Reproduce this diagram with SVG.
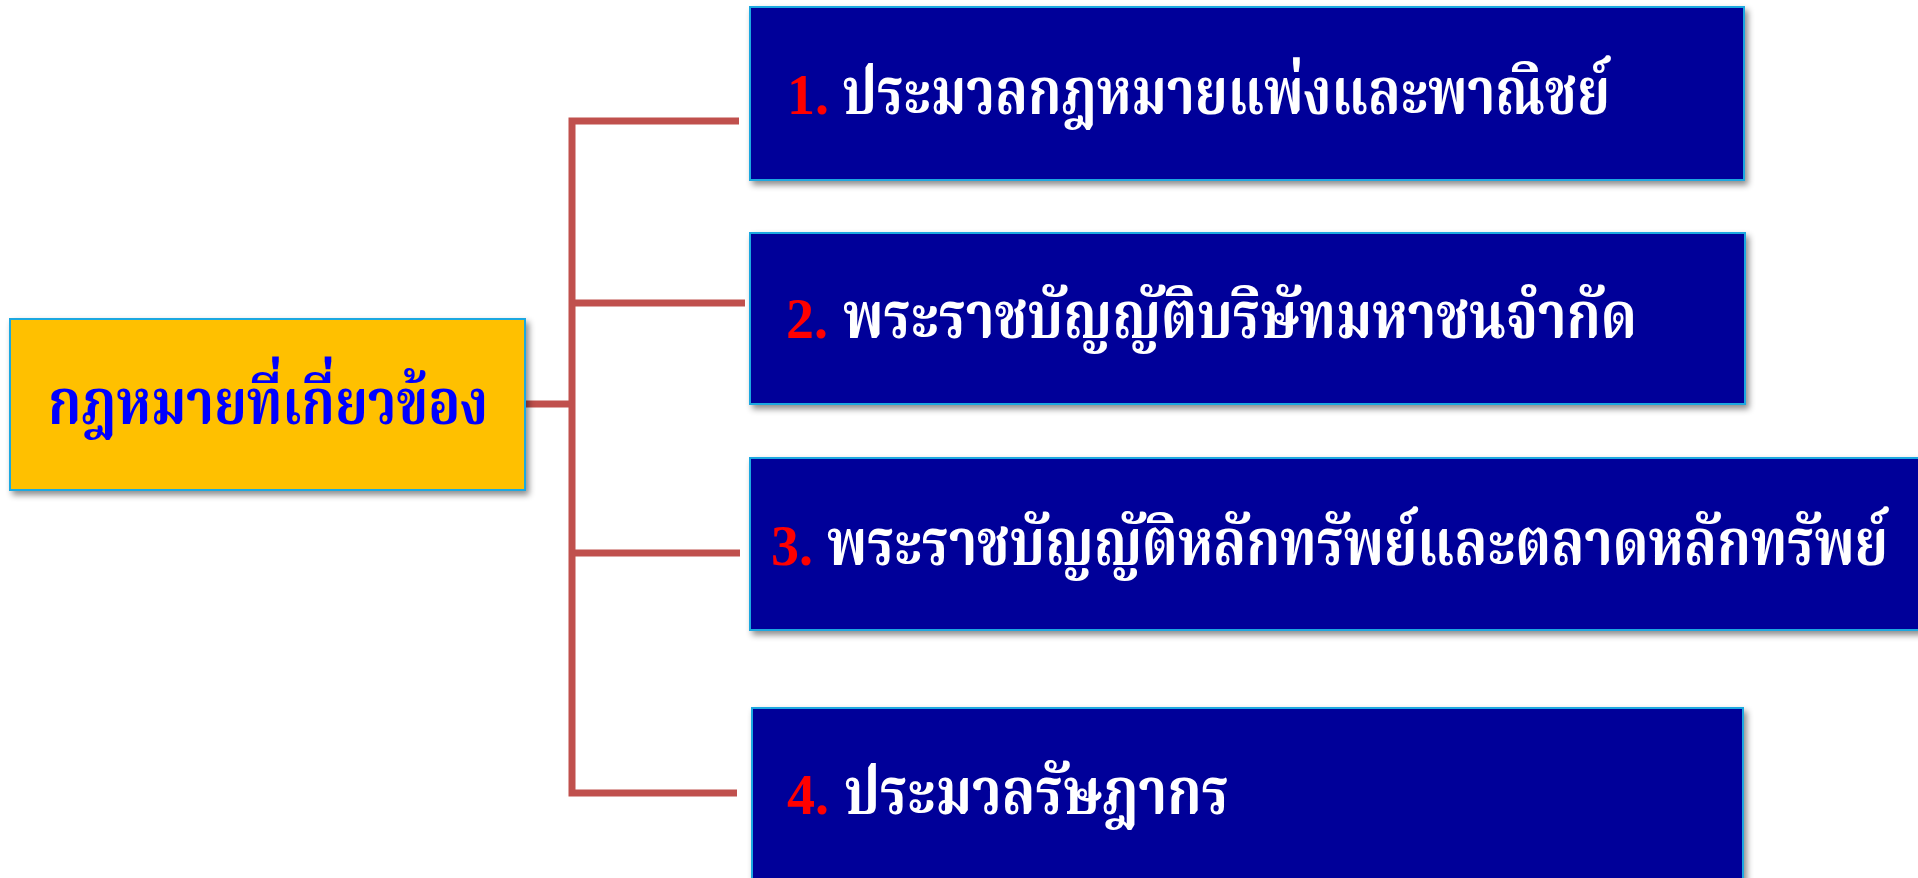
<svg xmlns="http://www.w3.org/2000/svg" width="1918" height="878" viewBox="0 0 1918 878">
  <defs>
    <filter id="shadow" x="-5%" y="-10%" width="115%" height="130%">
      <feDropShadow dx="3" dy="4" stdDeviation="3" flood-color="#000" flood-opacity="0.45"/>
    </filter>
  </defs>
  <style>
    .conn { fill: none; stroke: #C0504D; stroke-width: 7; stroke-linejoin: miter; stroke-linecap: butt; }
    .item { fill: #000099; stroke: #1FA8E0; stroke-width: 2; filter: url(#shadow); }
    .root { fill: #FFC000; stroke: #1FA8E0; stroke-width: 2; filter: url(#shadow); }
    .num { font-family: "Liberation Serif", serif; font-weight: bold; font-size: 56px; fill: #FF0000; }
    .th { font-family: "Noto Serif Thai", "Noto Sans Thai", "Liberation Serif", "DejaVu Serif", serif; font-weight: bold; font-size: 66px; fill: #FFFFFF; }
    .rootText { font-family: "Noto Serif Thai", "Noto Sans Thai", "Liberation Serif", "DejaVu Serif", serif; font-weight: bold; font-size: 64px; fill: #0000FF; }
  </style>
  <rect width="1918" height="878" fill="#FFFFFF"/>
  <g id="connectors">
    <path class="conn" d="M739,121 H572 V793 H737"/>
    <path class="conn" d="M572,303 H745"/>
    <path class="conn" d="M572,553 H740"/>
    <path class="conn" d="M525,404 H572"/>
  </g>
  <g id="root">
    <rect class="root" x="10" y="319" width="515" height="171"/>
    <text class="rootText" x="48" y="424" textLength="440" lengthAdjust="spacingAndGlyphs">กฎหมายที่เกี่ยวข้อง</text>
  </g>
  <g id="item1">
    <rect class="item" x="750" y="7" width="994" height="173"/>
    <text class="num" x="787" y="114">1.</text>
    <text class="th" x="842" y="114" textLength="768" lengthAdjust="spacingAndGlyphs">ประมวลกฎหมายแพ่งและพาณิชย์</text>
  </g>
  <g id="item2">
    <rect class="item" x="750" y="233" width="995" height="171"/>
    <text class="num" x="786" y="338">2.</text>
    <text class="th" x="843" y="338" textLength="794" lengthAdjust="spacingAndGlyphs">พระราชบัญญัติบริษัทมหาชนจำกัด</text>
  </g>
  <g id="item3">
    <rect class="item" x="750" y="458" width="1172" height="172"/>
    <text class="num" x="771" y="565">3.</text>
    <text class="th" x="827" y="565" textLength="1061" lengthAdjust="spacingAndGlyphs">พระราชบัญญัติหลักทรัพย์และตลาดหลักทรัพย์</text>
  </g>
  <g id="item4">
    <rect class="item" x="752" y="708" width="991" height="200"/>
    <text class="num" x="787" y="814">4.</text>
    <text class="th" x="844" y="814" textLength="385" lengthAdjust="spacingAndGlyphs">ประมวลรัษฎากร</text>
  </g>
</svg>
